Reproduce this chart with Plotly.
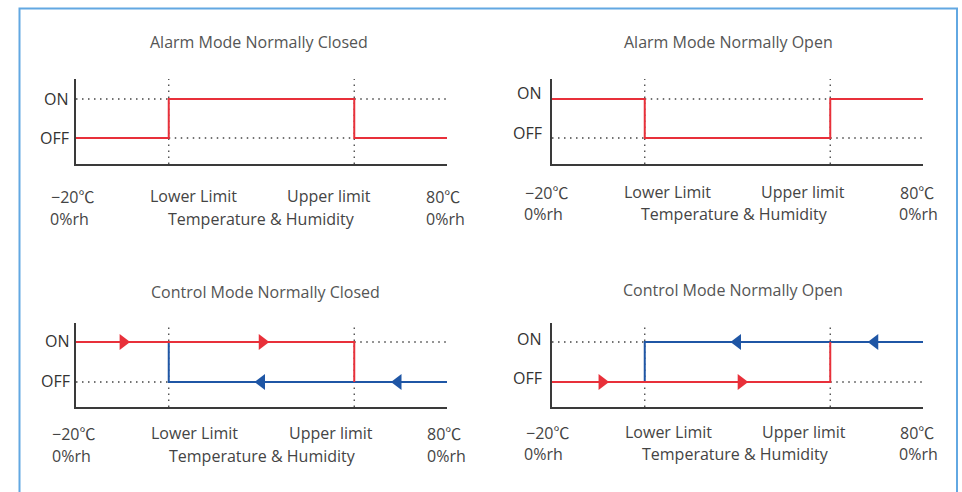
import plotly.graph_objects as go

W, H = 962, 492

# ---------------- data ----------------
titles = ["Alarm Mode Normally Closed", "Alarm Mode Normally Open",
          "Control Mode Normally Closed", "Control Mode Normally Open"]
state_ticks = ["OFF", "ON"]
DEG = "<span style=\"font-family:'Noto Sans CJK SC'\">\u2103</span>"
x_labels_row1 = ["\u221220" + DEG, "Lower Limit", "Upper limit", "80" + DEG]
x_labels_row2 = ["0%rh", "Temperature & Humidity", "0%rh"]

x_min, x_lower, x_upper, x_max = 0, 25, 75, 100
OFF, ON = 0, 1

# red (rising) and blue (falling) traces per panel
red_x = [[0, 25, 25, 75, 75, 100], [0, 25, 25, 75, 75, 100], [0, 75, 75], [0, 75, 75]]
red_y = [[0, 0, 1, 1, 0, 0], [1, 1, 0, 0, 1, 1], [1, 1, 0], [0, 0, 1]]
blue_x = [[], [], [100, 25, 25], [100, 25, 25]]
blue_y = [[], [], [0, 0, 1], [1, 1, 0]]

# arrow markers
red_arrow_x = [[], [], [12.7, 50.2], [13.5, 51.0]]
red_arrow_y = [[], [], [1, 1], [0, 0]]
blue_arrow_x = [[], [], [50.0, 86.8], [50.0, 87.0]]
blue_arrow_y = [[], [], [0, 0], [1, 1]]

# dotted guide segments (x0, x1, level)
dot_h = [
    [(0, 25, 1), (75, 100, 1), (25, 75, 0)],
    [(25, 75, 1), (0, 25, 0), (75, 100, 0)],
    [(75, 100, 1), (0, 25, 0)],
    [(0, 25, 1), (75, 100, 0)],
]

# ---------------- layout geometry (pixels) ----------------
boxes = [(76, 447, 79, 164), (552, 923, 79, 164), (76, 447, 323, 407), (552, 923, 323, 407)]
yranges = [(-0.667, 1.513), (-0.667, 1.513), (-0.625, 1.475), (-0.625, 1.475)]
title_pos = [(259, 42), (728, 42), (265, 292), (733, 290)]
onoff_pos = [((71, 99), (71, 138)), ((544, 93), (544, 133)),
             ((72, 341), (72, 381)), ((544, 339), (544, 378))]
row1_pos = [[(72, 196), (193, 196), (329, 196), (443, 196)],
            [(546, 192), (667, 192), (803, 192), (917, 192)],
            [(73, 433), (194, 433), (331, 433), (444, 433)],
            [(547, 432), (668, 432), (804, 432), (917, 432)]]
row2_pos = [[(69, 219), (261, 219), (445, 219)],
            [(543, 214), (734, 214), (918, 214)],
            [(71, 456), (262, 456), (446, 456)],
            [(543, 454), (735, 454), (918, 454)]]

RED = "#e8303a"
BLUE = "#1f56a5"
AXIS = "#3a3a3a"
DOT = "#444444"
TXT = "#444444"
FONT = "Open Sans"
DOTDASH = "1.5px,4.5px"


def px(x):
    return x / W


def py(y):
    return 1 - y / H


fig = go.Figure()
layout = dict(width=W, height=H, margin=dict(l=0, r=0, t=0, b=0),
              paper_bgcolor="white", plot_bgcolor="white", showlegend=False,
              autosize=False)
annotations = []

for i in range(4):
    xa = "x" if i == 0 else f"x{i+1}"
    ya = "y" if i == 0 else f"y{i+1}"
    xk = "xaxis" if i == 0 else f"xaxis{i+1}"
    yk = "yaxis" if i == 0 else f"yaxis{i+1}"
    x0, x1, y0, y1 = boxes[i]
    layout[xk] = dict(domain=[px(x0), px(x1)], range=[x_min, x_max], anchor=ya,
                      showgrid=False, zeroline=False, showline=True,
                      linecolor=AXIS, linewidth=2, ticks="inside",
                      tickvals=[x_max], ticklen=4, tickwidth=1.5, tickcolor=AXIS,
                      showticklabels=False, fixedrange=True)
    layout[yk] = dict(domain=[py(y1), py(y0)], range=list(yranges[i]), anchor=xa,
                      showgrid=False, zeroline=False, showline=True,
                      linecolor=AXIS, linewidth=2, showticklabels=False,
                      ticks="", fixedrange=True)

    # dotted guides
    for (a, b, lvl) in dot_h[i]:
        fig.add_trace(go.Scatter(x=[a, b], y=[lvl, lvl], mode="lines", xaxis=xa, yaxis=ya,
                                 line=dict(color=DOT, width=1.3, dash=DOTDASH),
                                 hoverinfo="skip"))
    for xv in (x_lower, x_upper):
        fig.add_trace(go.Scatter(x=[xv, xv], y=list(yranges[i]), mode="lines",
                                 xaxis=xa, yaxis=ya,
                                 line=dict(color=DOT, width=1.3, dash=DOTDASH),
                                 hoverinfo="skip"))

    # state lines
    if blue_x[i]:
        fig.add_trace(go.Scatter(x=blue_x[i], y=blue_y[i], mode="lines", xaxis=xa, yaxis=ya,
                                 line=dict(color=BLUE, width=2)))
    fig.add_trace(go.Scatter(x=red_x[i], y=red_y[i], mode="lines", xaxis=xa, yaxis=ya,
                             line=dict(color=RED, width=2)))
    if red_arrow_x[i]:
        fig.add_trace(go.Scatter(x=red_arrow_x[i], y=red_arrow_y[i], mode="markers",
                                 xaxis=xa, yaxis=ya,
                                 marker=dict(symbol="triangle-right", size=14, color=RED,
                                             line=dict(width=0))))
    if blue_arrow_x[i]:
        fig.add_trace(go.Scatter(x=blue_arrow_x[i], y=blue_arrow_y[i], mode="markers",
                                 xaxis=xa, yaxis=ya,
                                 marker=dict(symbol="triangle-left", size=14, color=BLUE,
                                             line=dict(width=0))))

    # texts
    tx, ty = title_pos[i]
    annotations.append(dict(text=titles[i], x=px(tx), y=py(ty), xref="paper", yref="paper",
                            xanchor="center", yanchor="middle", showarrow=False,
                            font=dict(family=FONT, size=16, color="#555555")))
    (onx, ony), (offx, offy) = onoff_pos[i]
    for label, (lx, ly) in ((state_ticks[1], (onx, ony)), (state_ticks[0], (offx, offy))):
        annotations.append(dict(text=label, x=px(lx), y=py(ly), xref="paper", yref="paper",
                                xanchor="right", yanchor="middle", showarrow=False,
                                font=dict(family=FONT, size=16, color="#333333")))
    for label, (lx, ly) in zip(x_labels_row1, row1_pos[i]):
        annotations.append(dict(text=label, x=px(lx), y=py(ly), xref="paper", yref="paper",
                                xanchor="center", yanchor="middle", showarrow=False,
                                font=dict(family=FONT, size=16, color=TXT)))
    for label, (lx, ly) in zip(x_labels_row2, row2_pos[i]):
        annotations.append(dict(text=label, x=px(lx), y=py(ly), xref="paper", yref="paper",
                                xanchor="center", yanchor="middle", showarrow=False,
                                font=dict(family=FONT, size=16, color=TXT)))

layout["annotations"] = annotations
layout["shapes"] = [dict(type="rect", xref="paper", yref="paper",
                         x0=px(19.5), x1=px(957), y0=-0.2, y1=py(8.5),
                         line=dict(color="#62a8e2", width=2), fillcolor="rgba(0,0,0,0)",
                         layer="below")]
fig.update_layout(**layout)
fig.write_html("out.html", config={"displayModeBar": False},
               post_script="document.body.style.margin='0';"
                           "document.documentElement.style.overflow='hidden';"
                           "document.body.style.overflow='hidden';")
